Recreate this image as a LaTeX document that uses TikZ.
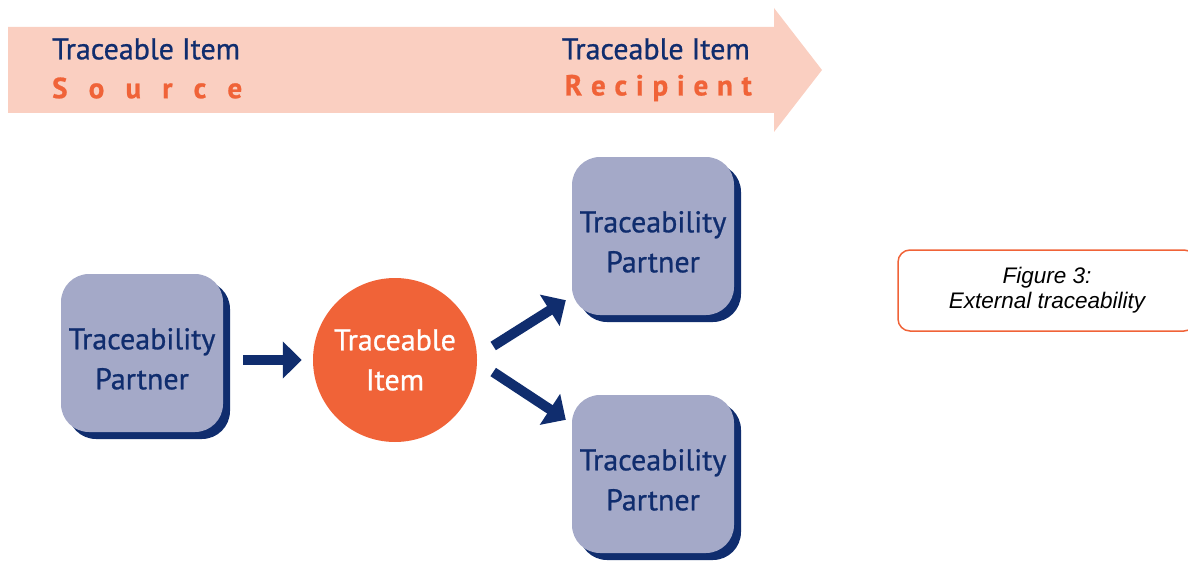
\documentclass[tikz,border=0pt]{standalone}
\usepackage{fontspec}
\setmainfont{PT Sans}[FakeBold=0.8]
\newfontfamily\captionfont{Liberation Sans}
\usetikzlibrary{arrows.meta,shadows,calc}

\definecolor{navy}{RGB}{16,45,110}
\definecolor{lilac}{RGB}{164,169,200}
\definecolor{tangerine}{RGB}{240,99,56}
\definecolor{salmon}{RGB}{250,207,193}

\tikzset{
    partner/.style={fill=lilac, rounded corners=28pt, minimum width=162pt,
        minimum height=158pt, align=center, text=navy, text height=73pt,
        font=\fontsize{30}{40}\selectfont,
        drop shadow={fill=navy, opacity=1, shadow xshift=7pt, shadow yshift=-7pt}},
    item/.style={circle, fill=tangerine, minimum size=164pt, inner sep=0pt,
        align=center, text=white, font=\fontsize{30}{40}\selectfont},
    flow/.style={draw=navy, line width=10pt, -{Triangle[length=19pt,width=36pt]}},
    head/.style={text=navy, inner sep=0pt, font=\fontsize{30}{34}\selectfont},
    role/.style={text=tangerine, inner sep=0pt, font=\bfseries\fontsize{29}{34}\selectfont},
    caption/.style={draw=tangerine, line width=1.5pt, rounded corners=12pt,
        minimum width=298pt, minimum height=81pt, align=center,
        font=\captionfont\itshape\fontsize{22.5}{25}\selectfont}
}

\begin{document}
\begin{tikzpicture}[x=1pt, y={(0pt,-1pt)}]
    \useasboundingbox (0,0) rectangle (1188,567);
    % direction band
    \fill[salmon] (8,27) -- (774,27) -- (774,8) -- (822,70) -- (774,132)
        -- (774,113) -- (8,113) -- cycle;
    \node[head, anchor=west] (srchead) at (52,49) {Traceable Item};
    \node[role, anchor=west] (srcrole) at (52,88)
        {\makebox[190pt][s]{S\hfill o\hfill u\hfill r\hfill c\hfill e}};
    \node[head, anchor=east] (dsthead) at (750,49) {Traceable Item};
    \node[role, anchor=east] (dstrole) at (752,88)
        {\makebox[187pt][s]{R\hfill e\hfill c\hfill i\hfill p\hfill i\hfill e\hfill n\hfill t}};

    % partners and item
    \node[partner] (src) at (142,353) {Traceability\\Partner};
    \node[partner] (dstA) at (653,236) {Traceability\\Partner};
    \node[partner] (dstB) at (653,474) {Traceability\\Partner};
    \node[item] (item) at (395,360) {Traceable\\Item};

    % flows
    \draw[flow] ($(src.east |- item)+(20,0)$) -- ($(item.west)+(-11,0)$);
    \draw[flow] ($(item.east)+(16,-14)$) -- ($(dstA.south west)+(-6,-15)$);
    \draw[flow] ($(item.east)+(16,12)$) -- ($(dstB.north west)+(-6,25)$);

    \node[caption] (fig) at (1047,290.5) {Figure 3:\\External traceability};
\end{tikzpicture}
\end{document}
